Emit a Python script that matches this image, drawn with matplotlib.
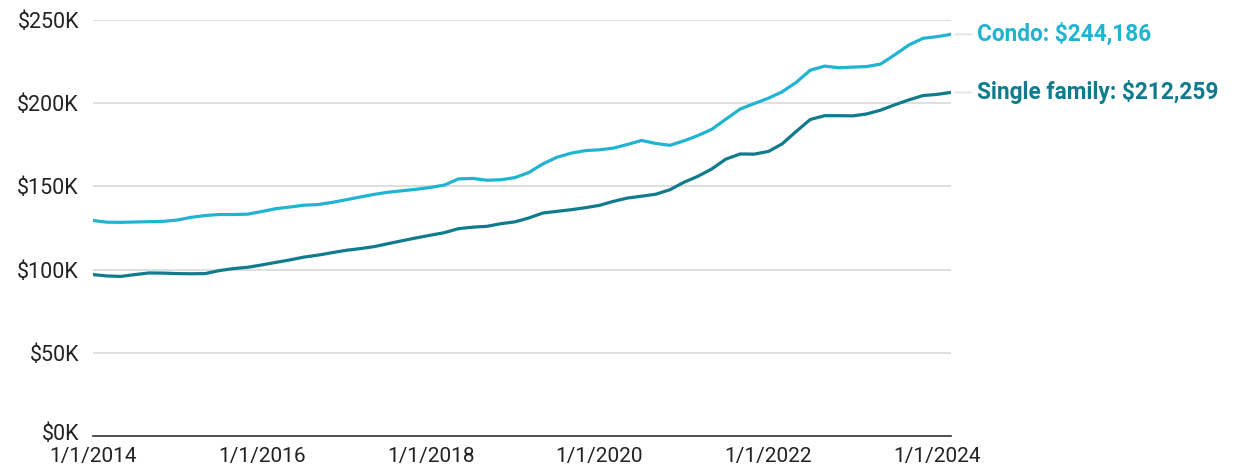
import matplotlib
matplotlib.use("Agg")
import matplotlib.pyplot as plt
import matplotlib.transforms as mtransforms
import pandas as pd

plt.rcParams['font.family'] = ['Roboto', 'DejaVu Sans']

# Readings every two months, Jan 2014 .. Mar 2024 (values in $K)
dates = pd.date_range("2014-01-01", periods=62, freq="2MS")

condo = [129.5, 128.5, 128.4, 128.6, 128.8, 129.0, 129.8, 131.4, 132.5, 133.1,
         133.1, 133.3, 134.9, 136.6, 137.6, 138.7, 139.1, 140.4, 142.0, 143.6,
         145.2, 146.5, 147.4, 148.3, 149.4, 150.8, 154.5, 154.8, 153.7, 154.0,
         155.3, 158.3, 163.5, 167.5, 170.0, 171.5, 172.0, 173.0, 175.2, 177.6,
         175.8, 174.7, 177.4, 180.5, 184.3, 190.4, 196.5, 199.8, 203.0, 206.8,
         212.5, 219.8, 222.3, 221.3, 221.7, 222.0, 223.5, 229.0, 235.0, 239.0,
         240.0, 241.4]

single_family = [97.0, 96.2, 95.9, 97.0, 98.0, 97.9, 97.6, 97.5, 97.6, 99.4,
                 100.6, 101.4, 102.8, 104.3, 105.8, 107.5, 108.7, 110.2, 111.6, 112.6,
                 113.8, 115.6, 117.4, 119.1, 120.7, 122.2, 124.6, 125.5, 126.0, 127.6,
                 128.7, 131.0, 134.0, 135.0, 136.0, 137.2, 138.6, 141.0, 143.0, 144.1,
                 145.3, 148.0, 152.5, 156.0, 160.5, 166.4, 169.5, 169.4, 171.0, 175.5,
                 183.0, 190.2, 192.5, 192.5, 192.4, 193.5, 195.8, 199.0, 202.0, 204.6,
                 205.3, 206.5]

series_labels = ["Condo: $244,186", "Single family: $212,259"]
colors = ["#20b4d2", "#107b8c"]

x_ticks = ["2014-01-01", "2016-01-01", "2018-01-01", "2020-01-01", "2022-01-01", "2024-01-01"]
x_tick_labels = ["1/1/2014", "1/1/2016", "1/1/2018", "1/1/2020", "1/1/2022", "1/1/2024"]
y_ticks = [0, 50, 100, 150, 200, 250]
y_tick_labels = ["$0K", "$50K", "$100K", "$150K", "$200K", "$250K"]

fig = plt.figure(figsize=(12.41, 4.70), dpi=100)
ax = fig.add_axes([93 / 1241, 1 - 436 / 470, (951 - 93) / 1241, (436 - 20) / 470])

for values, label, color in zip([condo, single_family], series_labels, colors):
    ax.plot(dates, values, color=color, lw=2.3, solid_capstyle='round',
            solid_joinstyle='round', zorder=3)
    # short grey connector + end label
    ax.annotate(label, xy=(dates[-1], values[-1]), xytext=(19, 0), textcoords='offset points',
                color=color, fontsize=16.3, fontweight='bold', va='center', ha='left',
                arrowprops=dict(arrowstyle='-', color='#e3e3e3', lw=1.2, shrinkA=2, shrinkB=3),
                annotation_clip=False)

ax.set_xlim(dates[0], dates[-1])
ax.set_ylim(0, 250)

ax.set_yticks(y_ticks)
ax.set_yticklabels(y_tick_labels)
ax.set_xticks(pd.to_datetime(x_ticks))
ax.set_xticklabels(x_tick_labels)

ax.grid(axis='y', color='#d6d6d6', lw=1.1)
ax.set_axisbelow(True)
for side in ['top', 'right', 'left']:
    ax.spines[side].set_visible(False)
ax.spines['bottom'].set_color('#333333')
ax.spines['bottom'].set_linewidth(1.2)

ax.tick_params(axis='y', length=0, pad=10, labelsize=15.5, labelcolor='#222222')
ax.tick_params(axis='x', length=0, pad=8, labelsize=15, labelcolor='#222222')

# the $0K label sits a touch above the baseline, as in the source
zero_lbl = ax.get_yticklabels()[0]
zero_lbl.set_transform(zero_lbl.get_transform() +
                       mtransforms.ScaledTranslation(0, 3 / 72, fig.dpi_scale_trans))

fig.savefig("out.png", dpi=100)
